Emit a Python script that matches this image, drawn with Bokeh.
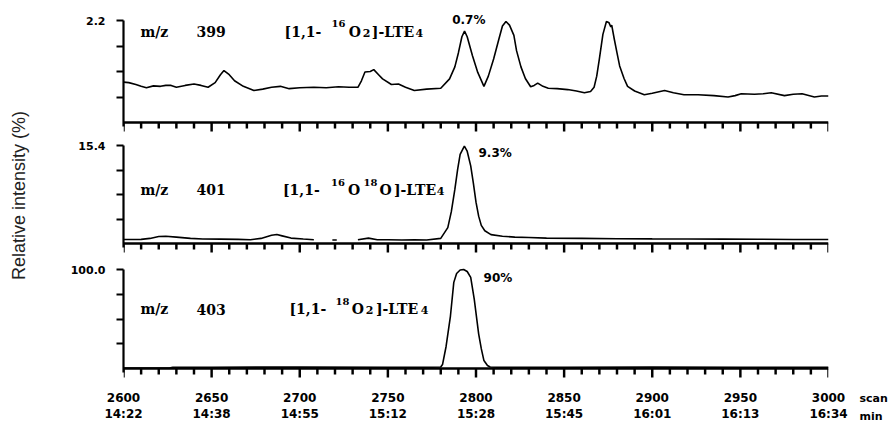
import math
from bokeh.plotting import figure
from bokeh.layouts import column, row
from bokeh.models import (Range1d, FixedTicker, LinearAxis, Label, PrintfTickFormatter, Span)
from bokeh.embed import file_html
from bokeh.resources import INLINE

NaN = float("nan")

# ---------------- data ----------------
scan_ticks = [2600, 2650, 2700, 2750, 2800, 2850, 2900, 2950, 3000]
scan_minor_ticks = [2610, 2620, 2630, 2640, 2660, 2670, 2680, 2690,
                    2710, 2720, 2730, 2740, 2760, 2770, 2780, 2790,
                    2810, 2820, 2830, 2840, 2860, 2870, 2880, 2890,
                    2910, 2920, 2930, 2940, 2960, 2970, 2980, 2990]
scan_labels = ["2600", "2650", "2700", "2750", "2800", "2850", "2900", "2950", "3000"]
time_labels = ["14:22", "14:38", "14:55", "15:12", "15:28", "15:45", "16:01", "16:13", "16:34"]

panel_max = [2.2, 15.4, 100.0]
panel_mz = ["399", "401", "403"]
panel_pct = ["0.7%", "9.3%", "90%"]
panel_pct_y = [2.22, 14.3, 91.9]

# m/z 399  [1,1-16O2]-LTE4
mz399_scan = [2600, 2603, 2607, 2610, 2613, 2617, 2621, 2624, 2627, 2630, 2635, 2640, 2644,
              2648, 2652, 2655, 2657, 2660, 2663, 2668, 2674, 2679, 2684, 2689, 2694, 2700,
              2708, 2715, 2722, 2728, 2733, 2735, 2737, 2740, 2742, 2745, 2747, 2752, 2756,
              2760, 2765, 2772, 2780, 2785, 2788, 2790, 2792, 2793.5, 2795, 2798, 2801,
              2804.5, 2807, 2810, 2813, 2815, 2817, 2819, 2821.5, 2823, 2825.5, 2828, 2831,
              2833, 2835, 2838, 2841, 2846, 2852, 2857, 2861.5, 2865, 2867, 2868.5, 2870,
              2872, 2874, 2875.5, 2876.5, 2877, 2878.5, 2880, 2881.5, 2884, 2886, 2890,
              2895.5, 2900, 2907, 2912, 2918, 2926, 2935, 2943, 2947, 2950.5, 2958, 2963,
              2967.5, 2975, 2980, 2985, 2992, 2996, 3000]
mz399_int = [0.87, 0.86, 0.82, 0.78, 0.75, 0.79, 0.78, 0.80, 0.80, 0.76, 0.80, 0.83, 0.80,
             0.76, 0.86, 1.03, 1.12, 1.03, 0.90, 0.78, 0.69, 0.72, 0.76, 0.78, 0.73, 0.75,
             0.76, 0.75, 0.77, 0.76, 0.76, 0.90, 1.09, 1.10, 1.14, 1.02, 0.94, 0.82, 0.83,
             0.76, 0.69, 0.72, 0.74, 0.94, 1.20, 1.50, 1.85, 1.97, 1.85, 1.44, 1.08,
             0.78, 1.00, 1.37, 1.80, 2.08, 2.18, 2.10, 1.88, 1.55, 1.20, 0.95, 0.77,
             0.80, 0.85, 0.78, 0.74, 0.73, 0.71, 0.68, 0.64, 0.67, 0.76, 1.00, 1.37,
             1.90, 2.18, 2.15, 2.06, 2.10, 1.79, 1.50, 1.22, 0.95, 0.78, 0.68,
             0.60, 0.63, 0.69, 0.64, 0.60, 0.60, 0.58, 0.55, 0.58, 0.62, 0.61, 0.62,
             0.64, 0.58, 0.61, 0.62, 0.55, 0.57, 0.57]

# m/z 401  [1,1-16O18O]-LTE4
mz401_scan = [2600, 2610, 2615, 2620, 2624, 2630, 2638, 2645, 2655, 2665, 2672, 2678, 2684,
              2687, 2690, 2695, 2702, 2708, 2712, 2718.5, 2721, 2726, 2733, 2739, 2744,
              2750, 2758, 2765, 2772, 2780, 2784, 2786, 2788, 2789.6, 2791, 2793.4, 2795,
              2797, 2798.5, 2800, 2801.5, 2803, 2805, 2808.5, 2815, 2822, 2830, 2840, 2860,
              2880, 2900, 2920, 2940, 2960, 2980, 3000]
mz401_int = [0.63, 0.65, 0.80, 1.10, 1.15, 1.00, 0.80, 0.70, 0.68, 0.65, 0.60, 0.80, 1.30,
             1.41, 1.20, 0.85, 0.70, 0.60, NaN, 0.55, 0.55, NaN, 0.60, 0.85, 0.60,
             0.60, 0.55, 0.60, 0.55, 0.80, 2.50, 5.00, 8.50, 11.7, 14.0, 15.3, 14.5,
             12.2, 9.50, 6.50, 4.30, 2.85, 2.00, 1.40, 1.15, 1.00, 0.95, 0.85, 0.80,
             0.75, 0.72, 0.70, 0.68, 0.66, 0.64, 0.62]

# m/z 403  [1,1-18O2]-LTE4
mz403_scan = [2600, 2615, 2626, 2628, 2650, 2700, 2750, 2775, 2780, 2781, 2783, 2785.5,
              2787.4, 2789, 2791, 2793, 2795, 2797, 2799, 2801.5, 2803, 2804.5, 2806.5,
              2808, 2812, 2850, 2900, 2950, 3000]
mz403_int = [0.4, 0.4, 0.4, 1.3, 1.3, 1.4, 1.3, 1.3, 1.5, 4.0, 22.0, 53.0,
             87.0, 96.0, 99.5, 100.0, 98.0, 92.0, 70.0, 35.0, 20.0, 8.0, 3.0,
             1.5, 1.3, 1.3, 1.4, 1.3, 1.3]

# formula pieces: (text, kind) kind: n = normal, sup = superscript, sub = lowered index
formula_399 = [("[1,1-", "n"), ("16", "sup"), ("O", "n"), ("2", "sub"), ("]-LTE", "n"), ("4", "sub")]
formula_401 = [("[1,1-", "n"), ("16", "sup"), ("O", "n"), ("18", "sup"), ("O", "n"), ("]-LTE", "n"), ("4", "sub")]
formula_403 = [("[1,1-", "n"), ("18", "sup"), ("O", "n"), ("2", "sub"), ("]-LTE", "n"), ("4", "sub")]
y_axis_title = "Relative intensity (%)"
x_unit_labels = ["scan", "min"]

# ---------------- layout (positions / styles) ----------------
H_TOTAL = 426
LW = 40            # left strip (y title)
LB, RB = 83, 20    # panel borders
FW = 705           # frame width
PW = LB + FW + RB  # panel width
RW = 888 - LW - PW
BOT_H = 48         # strip under the last panel carrying the tick-label axes
# per panel: top border, pad above ymax (px), data height (px), pad below 0 (px), bottom border
panel_geom = [(12, 8, 102, 10, 4), (5, 4, 98, 10, 4), (8, 4, 99, 10, 0)]
MAJOR_TICK_PX, MINOR_TICK_PX = 9, 6
TICK_W_SCAN = 1.4   # tick thickness in scan units (~2.5 px)
text_base_frac = [0.892, 0.551, 0.600]
piece_x = [
    [2701.8, 2722.0, 2731.3, 2737.9, 2752.9, 2767.9],
    [2700.9, 2721.7, 2730.8, 2740.1, 2748.7, 2765.4, 2779.9],
    [2704.6, 2724.3, 2733.0, 2739.6, 2755.2, 2770.8],
]
pct_x = [2786.5, 2801.4, 2804.3]

SERIF = "DejaVu Serif"
SANS = "DejaVu Sans"


def add_label(p, x, y, text, font, size, style="bold", align="left", baseline="alphabetic",
              angle=0.0, color="black"):
    p.add_layout(Label(x=x, y=y, text=text, text_font=font, text_font_size=f"{size}px",
                       text_font_style=style, text_align=align, text_baseline=baseline,
                       angle=angle, text_color=color))


def clean(p):
    p.xgrid.visible = False
    p.ygrid.visible = False
    p.outline_line_color = None
    p.background_fill_color = "white"
    p.border_fill_color = "white"
    return p


def strip(w, h):
    s = figure(width=w, height=h, x_range=Range1d(0, w), y_range=Range1d(0, h),
               output_backend="svg", toolbar_location=None,
               x_axis_location=None, y_axis_location=None,
               min_border_left=0, min_border_right=0, min_border_top=0, min_border_bottom=0)
    return clean(s)


def label_axis(labels, standoff):
    return LinearAxis(ticker=FixedTicker(ticks=scan_ticks),
                      major_label_overrides={t: l for t, l in zip(scan_ticks, labels)},
                      axis_line_color=None, major_tick_line_color=None,
                      minor_tick_line_color=None, major_tick_out=0, major_tick_in=0,
                      major_label_standoff=standoff, major_label_text_font=SANS,
                      major_label_text_font_style="bold", major_label_text_font_size="12px",
                      major_label_text_color="black")


def make_panel(i, xs, ys, formula):
    tb, top_pad, dh, bot_pad, bb = panel_geom[i]
    ymax = panel_max[i]
    unit = ymax / dh  # data units per pixel
    p = figure(frame_width=FW, frame_height=top_pad + dh + bot_pad,
               x_range=Range1d(2600, 3000),
               y_range=Range1d(-bot_pad * unit, ymax + top_pad * unit),
               x_axis_location=None, y_axis_location=None,
               output_backend="svg", toolbar_location=None,
               min_border_left=LB, min_border_right=RB, min_border_top=tb, min_border_bottom=bb)
    clean(p)

    # x axis drawn at intensity 0: rule + downward ticks (as thin filled bars)
    p.add_layout(Span(location=0, dimension="width", line_color="black", line_width=2.6))
    p.vbar(x=scan_ticks, width=TICK_W_SCAN, top=0, bottom=-MAJOR_TICK_PX * unit,
           fill_color="black", line_color=None)
    p.vbar(x=scan_minor_ticks, width=TICK_W_SCAN, top=0, bottom=-MINOR_TICK_PX * unit,
           fill_color="black", line_color=None)

    # y axis
    ya = LinearAxis(
        bounds=(-4 * unit, ymax),
        ticker=FixedTicker(ticks=[ymax], minor_ticks=[ymax * 0.25, ymax * 0.5, ymax * 0.75]),
        formatter=PrintfTickFormatter(format="%.1f"),
        axis_line_width=2.2, axis_line_color="black",
        major_tick_line_width=2, minor_tick_line_width=2,
        major_tick_line_color="black", minor_tick_line_color="black",
        major_tick_in=0, major_tick_out=7, minor_tick_in=0, minor_tick_out=7,
        major_label_text_font=SANS, major_label_text_font_style="bold",
        major_label_text_font_size="11px", major_label_text_color="black",
        major_label_standoff=11,
    )
    p.add_layout(ya, "left")

    # trace
    p.line(xs, ys, line_color="black", line_width=1.6)

    # texts
    yb = ymax * text_base_frac[i]
    add_label(p, 2609.6, yb, "m/z", SERIF, 14)
    add_label(p, 2641.4, yb, panel_mz[i], SERIF, 14)
    for (txt, kind), px in zip(formula, piece_x[i]):
        if kind == "n":
            add_label(p, px, yb, txt, SERIF, 14, align="center")
        elif kind == "sup":
            add_label(p, px, yb + ymax * 0.075, txt, SERIF, 10, align="center")
        else:
            add_label(p, px, yb - ymax * 0.012, txt, SERIF, 11, align="center")
    add_label(p, pct_x[i], panel_pct_y[i], panel_pct[i], SANS, 12, baseline="middle")
    return p


p1 = make_panel(0, mz399_scan, mz399_int, formula_399)
p2 = make_panel(1, mz401_scan, mz401_int, formula_401)
p3 = make_panel(2, mz403_scan, mz403_int, formula_403)

# strip under the last panel: same scan range, carries the scan and time tick labels
bottom = figure(frame_width=FW, frame_height=1, x_range=Range1d(2600, 3000),
                y_range=Range1d(0, 1), x_axis_location=None, y_axis_location=None,
                output_backend="svg", toolbar_location=None,
                min_border_left=LB, min_border_right=RB, min_border_top=0,
                min_border_bottom=BOT_H - 1)
clean(bottom)
bottom.add_layout(label_axis(scan_labels, 13), "below")
bottom.add_layout(label_axis(time_labels, 2), "below")

left = strip(LW, H_TOTAL)
add_label(left, 18, H_TOTAL - 195, y_axis_title, "Liberation Sans", 18, style="normal",
          align="center", baseline="middle", angle=math.pi / 2, color="#222222")

right = strip(RW, H_TOTAL)
add_label(right, 11, H_TOTAL - 398, x_unit_labels[0], SANS, 11, baseline="middle")
add_label(right, 11, H_TOTAL - 416, x_unit_labels[1], SANS, 11, baseline="middle")

layout = row(left, column(p1, p2, p3, bottom, spacing=0), right, spacing=0)
open("out.html", "w").write(file_html(layout, INLINE))
